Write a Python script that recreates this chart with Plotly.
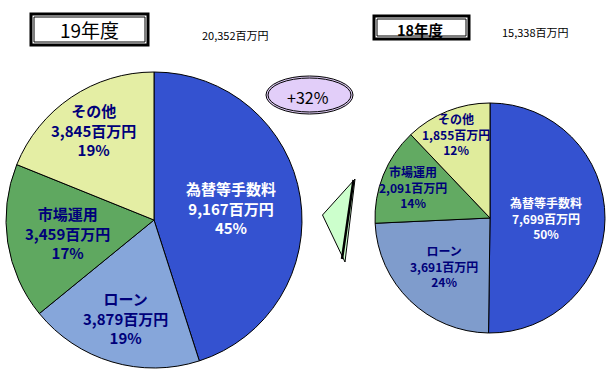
import math
import plotly.graph_objects as go

W, H = 610, 391

categories = ["為替等手数料", "ローン", "市場運用", "その他"]
values_19 = [9167, 3879, 3459, 3845]
pcts_19 = [45, 19, 17, 19]
values_18 = [7699, 3691, 2091, 1855]
pcts_18 = [50, 24, 14, 12]
total_19 = "20,352百万円"
total_18 = "15,338百万円"
growth = "+32%"

# styles
colors_19 = ["#3452D0", "#86A6DA", "#5FA860", "#E4EEA4"]
colors_18 = ["#3452D0", "#7F9CCC", "#62AA62", "#E0EC9C"]
text_colors = ["white", "#00007A", "#00007A", "#00007A"]
label_r_19 = [0.53, 0.69, 0.59, 0.73]
label_r_18 = [0.49, 0.58, 0.72, 0.79]
FONT = "Noto Sans CJK JP"

# pie geometry (pixels): centre x, centre y, radius
PIE19 = (154, 220, 148)
PIE18 = (490, 218, 115)


def px(x):
    return x / W


def py(y):
    return 1 - y / H


def dom(geo):
    cx, cy, r = geo
    return dict(x=[px(cx - r), px(cx + r)], y=[py(cy + r), py(cy - r)])


def label_annotations(vals, pcts, geo, rfrac, size):
    cx, cy, r = geo
    total = sum(vals)
    cum = 0
    out = []
    for i, (c, v, p) in enumerate(zip(categories, vals, pcts)):
        mid = (cum + v / 2) / total * 2 * math.pi
        cum += v
        d = rfrac[i] * r
        x = cx + d * math.sin(mid)
        y = cy - d * math.cos(mid)
        out.append(dict(
            text=f"<b>{c}<br>{v:,}百万円<br>{p}%</b>",
            x=px(x), y=py(y), xref="paper", yref="paper", showarrow=False,
            xanchor="center", yanchor="middle", align="center",
            font=dict(size=size, color=text_colors[i], family=FONT),
        ))
    return out


fig = go.Figure()
for vals, cols, geo in [(values_19, colors_19, PIE19), (values_18, colors_18, PIE18)]:
    fig.add_trace(go.Pie(
        labels=categories, values=vals, textinfo="none",
        sort=False, direction="clockwise", rotation=0,
        marker=dict(colors=cols, line=dict(color="black", width=1)),
        domain=dom(geo), showlegend=False, hoverinfo="label+value+percent",
    ))

shapes = []
shapes.append(dict(type="rect", xref="paper", yref="paper", x0=px(31), x1=px(148), y0=py(45), y1=py(14),
                   line=dict(color="black", width=3), fillcolor="white", layer="below"))
shapes.append(dict(type="rect", xref="paper", yref="paper", x0=px(34), x1=px(145), y0=py(42), y1=py(17),
                   line=dict(color="black", width=1)))
shapes.append(dict(type="rect", xref="paper", yref="paper", x0=px(374), x1=px(469), y0=py(39), y1=py(16),
                   line=dict(color="black", width=3), fillcolor="white", layer="below"))
shapes.append(dict(type="rect", xref="paper", yref="paper", x0=px(377), x1=px(466), y0=py(36), y1=py(19),
                   line=dict(color="black", width=1)))
shapes.append(dict(type="circle", xref="paper", yref="paper", x0=px(266), x1=px(353), y0=py(114), y1=py(76),
                   line=dict(color="black", width=1), fillcolor="#E2CEF9"))
shapes.append(dict(type="circle", xref="paper", yref="paper", x0=px(268), x1=px(351), y0=py(112), y1=py(78),
                   line=dict(color="black", width=1), fillcolor="rgba(0,0,0,0)"))
path = f"M {px(322.5)},{py(215)} L {px(355)},{py(179)} L {px(345)},{py(262)} Z"
shapes.append(dict(type="path", xref="paper", yref="paper", path=path,
                   line=dict(color="black", width=1), fillcolor="#CCFFCC"))
shapes.append(dict(type="line", xref="paper", yref="paper", x0=px(353.5), y0=py(180), x1=px(342), y1=py(259),
                   line=dict(color="black", width=2.5)))


def ann(text, x, y, size):
    return dict(text=text, x=px(x), y=py(y), xref="paper", yref="paper", showarrow=False,
                xanchor="center", yanchor="middle", font=dict(size=size, color="black", family=FONT))


annotations = [
    ann("19年度", 89, 30, 19),
    ann(total_19, 235, 34.5, 11),
    ann("<b>18年度</b>", 420, 29, 14.5),
    ann(total_18, 535, 32, 11),
    ann(growth, 308, 97, 16),
]
annotations += label_annotations(values_19, pcts_19, PIE19, label_r_19, 15)
annotations += label_annotations(values_18, pcts_18, PIE18, label_r_18, 12)

fig.update_layout(
    width=W, height=H, margin=dict(l=0, r=0, t=0, b=0),
    paper_bgcolor="white", plot_bgcolor="white",
    shapes=shapes, annotations=annotations,
    font=dict(family=FONT),
)
fig.write_html("out.html", config={"displayModeBar": False},
               post_script="document.body.style.margin='0';document.body.style.overflow='hidden';")
